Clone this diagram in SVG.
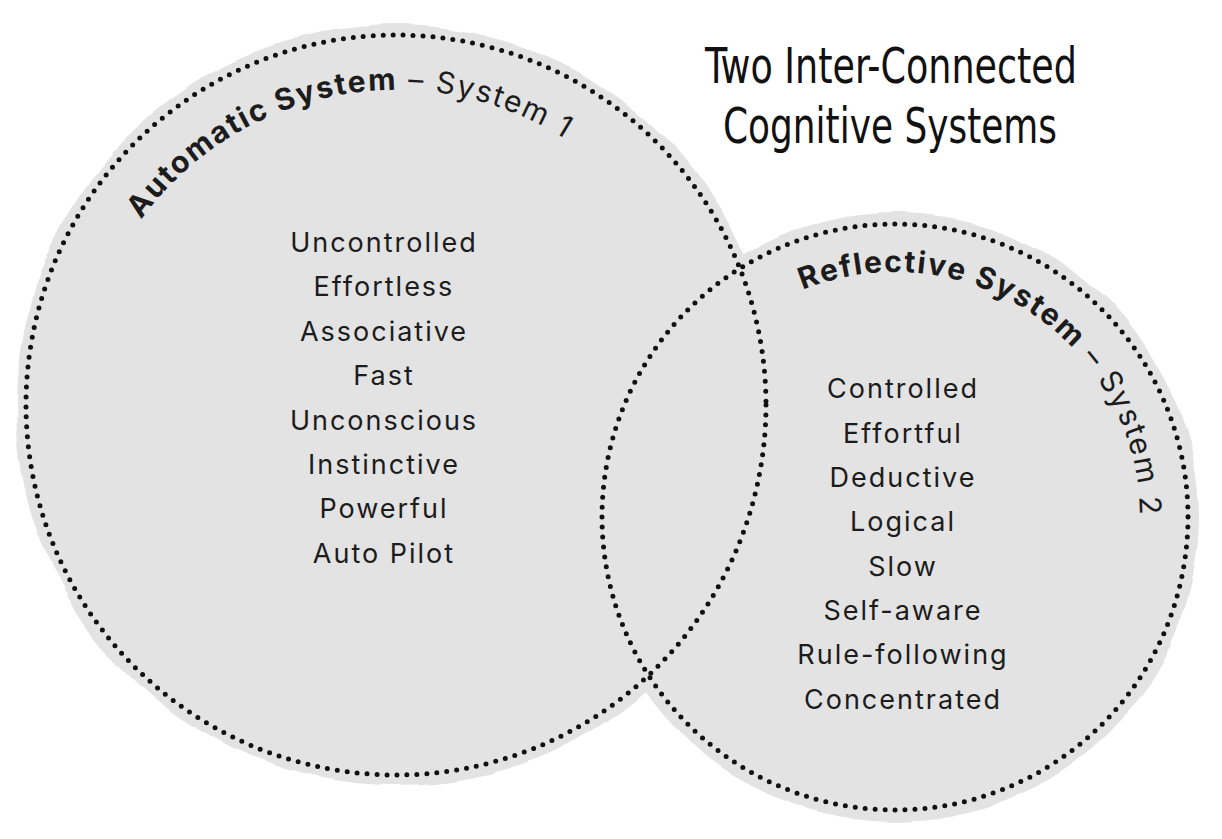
<svg xmlns="http://www.w3.org/2000/svg" xmlns:xlink="http://www.w3.org/1999/xlink" width="1222" height="839" viewBox="0 0 1222 839">
  <style>
    .fill { fill: #e3e3e3; }
    .dots { fill: none; stroke: #111; stroke-width: 5; stroke-linecap: round; stroke-dasharray: 0 10; }
    .item { font-family: Inter, "Liberation Sans", sans-serif; font-size: 27px; fill: #1c1c1c; text-anchor: middle; letter-spacing: 2px; }
    .arc { font-family: Inter, "Liberation Sans", sans-serif; font-size: 30px; fill: #1c1c1c; letter-spacing: 1.8px; }
    .arc .bold { font-weight: 700; }
    .title { font-family: "Liberation Sans Narrow", "DejaVu Sans Condensed", sans-serif; font-size: 50px; fill: #111; text-anchor: middle; }
  </style>
  <defs>
    <!-- slightly ragged edge for the grey discs -->
    <filter id="rough" x="-5%" y="-5%" width="110%" height="110%">
      <feTurbulence type="fractalNoise" baseFrequency="0.015" numOctaves="2" seed="4" result="noise"/>
      <feDisplacementMap in="SourceGraphic" in2="noise" scale="10" xChannelSelector="R" yChannelSelector="G"/>
    </filter>
    <!-- baseline circles for the curved headings, both starting at the left-most point -->
    <path id="arc1" d="M81,405 A315,315 0 1 1 711,405 A315,315 0 1 1 81,405"/>
    <path id="arc2" d="M650,517 A245,245 0 1 1 1140,517 A245,245 0 1 1 650,517"/>
  </defs>

  <rect width="1222" height="839" fill="#ffffff"/>

  <!-- grey discs behind both systems -->
  <g id="backdrop" filter="url(#rough)">
    <circle class="fill" cx="396" cy="405" r="380"/>
    <circle class="fill" cx="895" cy="517" r="304"/>
  </g>

  <g id="system1">
    <circle class="dots" cx="396" cy="405" r="370"/>
    <text class="arc"><textPath xlink:href="#arc1" startOffset="198"><tspan class="bold">Automatic System</tspan> – System 1</textPath></text>
    <text class="item" x="384" y="252">Uncontrolled</text>
    <text class="item" x="384" y="296">Effortless</text>
    <text class="item" x="384" y="341">Associative</text>
    <text class="item" x="384" y="385">Fast</text>
    <text class="item" x="384" y="430">Unconscious</text>
    <text class="item" x="384" y="474">Instinctive</text>
    <text class="item" x="384" y="518">Powerful</text>
    <text class="item" x="384" y="563">Auto Pilot</text>
  </g>

  <g id="system2">
    <circle class="dots" cx="895" cy="517" r="293"/>
    <text class="arc"><textPath xlink:href="#arc2" startOffset="290"><tspan class="bold">Reflective System</tspan> – System 2</textPath></text>
    <text class="item" x="903" y="398">Controlled</text>
    <text class="item" x="903" y="443">Effortful</text>
    <text class="item" x="903" y="487">Deductive</text>
    <text class="item" x="903" y="531">Logical</text>
    <text class="item" x="903" y="576">Slow</text>
    <text class="item" x="903" y="620">Self-aware</text>
    <text class="item" x="903" y="664">Rule-following</text>
    <text class="item" x="903" y="709">Concentrated</text>
  </g>

  <g id="title">
    <text class="title" x="891" y="83" textLength="372" lengthAdjust="spacingAndGlyphs">Two Inter-Connected</text>
    <text class="title" x="890" y="143" textLength="334" lengthAdjust="spacingAndGlyphs">Cognitive Systems</text>
  </g>
</svg>
